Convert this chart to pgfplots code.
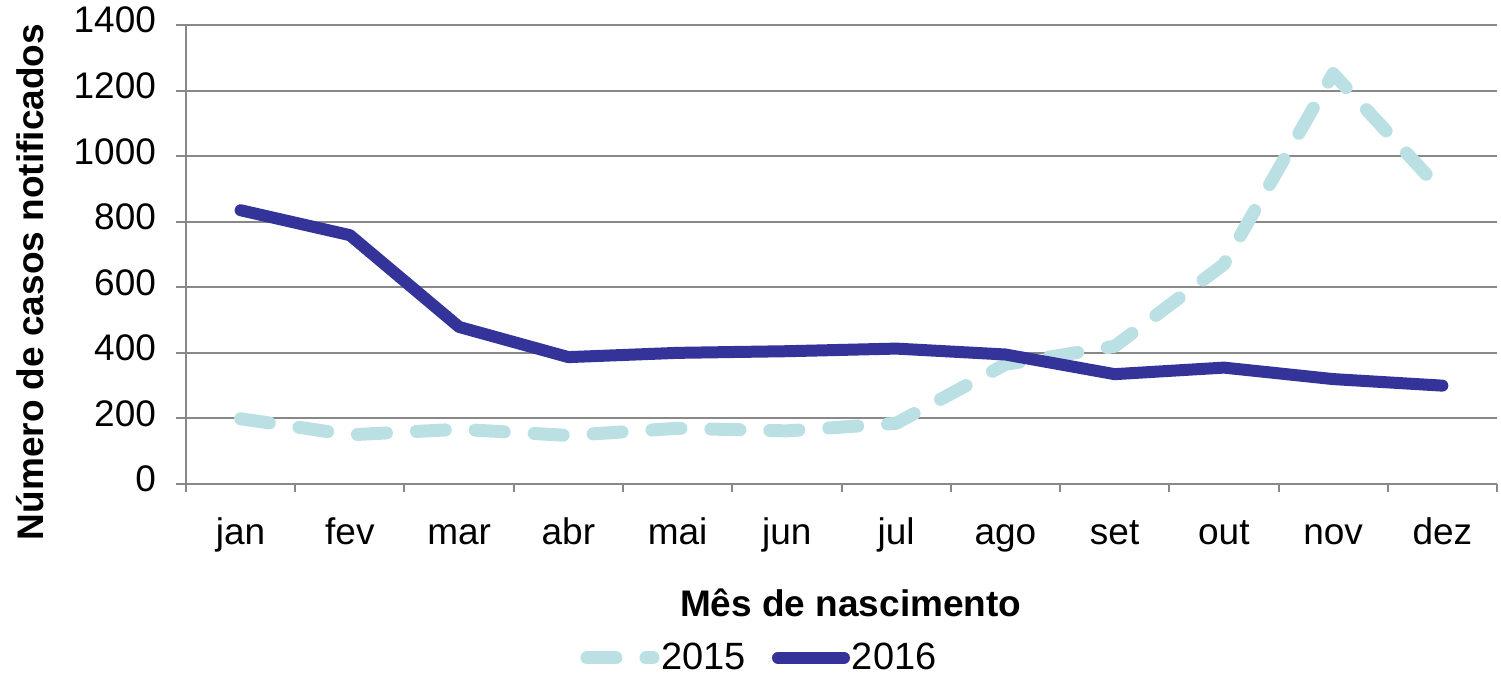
\documentclass[border=0pt]{standalone}
\usepackage{fontspec}
\setmainfont{Liberation Sans}
\usepackage{pgfplots}
\pgfplotsset{compat=1.18}
\definecolor{c15}{HTML}{BAE0E3}
\definecolor{c16}{HTML}{333399}
\definecolor{gridc}{HTML}{888888}
\begin{document}
\begin{tikzpicture}
\begin{axis}[
  name=ax,
  scale only axis, width=655.5pt, height=229.5pt,
  xmin=0.5, xmax=12.5, ymin=0, ymax=1400,
  xtick={1,...,12},
  xticklabels={jan,fev,mar,abr,mai,jun,jul,ago,set,out,nov,dez},
  minor xtick={0.5,1.5,...,12.5},
  ytick={0,200,...,1400},
  axis lines*=left,
  axis line style={gridc, line width=1pt},
  ymajorgrids, major grid style={gridc, line width=1pt},
  tick align=outside, major tick length=5pt, minor tick length=4pt,
  tick style={gridc, line width=1pt},
  major x tick style={draw=none},
  ticklabel style={font=\fontsize{18.5}{20}\selectfont, text=black},
  typeset ticklabels with strut,
  xticklabel style={yshift=-7.5pt},
  yticklabel style={xshift=-6.5pt},
  /pgf/number format/assume math mode=true,
  /pgf/number format/1000 sep={},
  xlabel={Mês de nascimento},
  ylabel={Número de casos notificados},
  xlabel style={at={(axis description cs:0.507,-0.259)}, anchor=center, font=\fontsize{18.5}{20}\selectfont\bfseries},
  ylabel style={at={(axis description cs:-0.119,0.44)}, anchor=center, rotate=0, font=\fontsize{18.5}{20}\selectfont\bfseries},
  legend style={at={(axis description cs:0.296,-0.379)}, anchor=west, draw=none, fill=none,
    legend columns=2, font=\fontsize{19}{20}\selectfont,
    nodes={inner xsep=1pt, inner ysep=0pt},
    /tikz/every even column/.append style={column sep=12pt}},
  legend image code/.code={\draw[#1] (0pt,0pt) -- (33pt,0pt);},
]
\addplot[c15, line width=6.5pt, line cap=round, line join=round, dash pattern=on 14.5pt off 15pt] coordinates {
(1,199) (2,150) (3,167) (4,148) (5,170) (6,162) (7,185) (8,365) (9,420) (10,670) (11,1252) (12,891)};
\addlegendentry{2015}
\addplot[c16, line width=6pt, line cap=round, line join=round] coordinates {
(1,835) (2,759) (3,479) (4,387) (5,400) (6,405) (7,413) (8,395) (9,335) (10,355) (11,320) (12,300)};
\addlegendentry{2016}
\end{axis}
\pgfresetboundingbox
\path ([xshift=-93pt,yshift=-95.5pt]ax.south west) rectangle ([xshift=2pt,yshift=12.5pt]ax.north east);
\end{tikzpicture}
\end{document}
